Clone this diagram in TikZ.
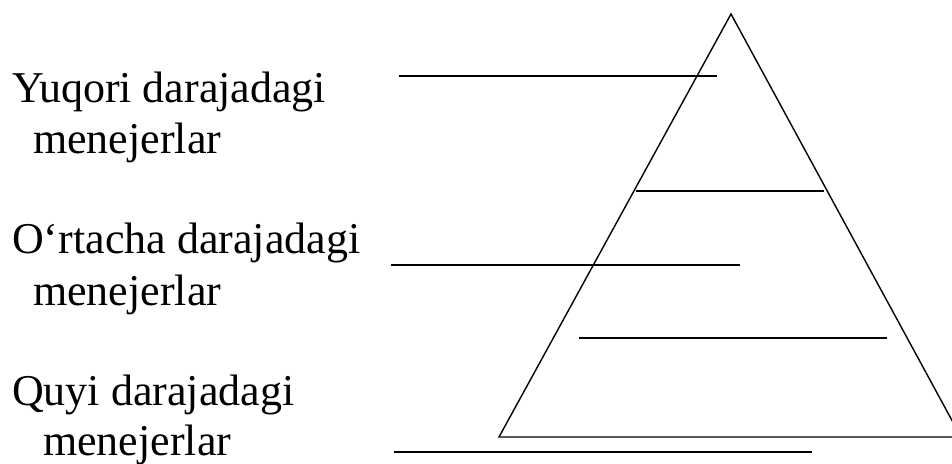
\documentclass[tikz,border=0pt]{standalone}
\usepackage{fontspec}
\setmainfont{Liberation Serif}
\begin{document}
\begin{tikzpicture}[x=1pt,y=-1pt,
  lbl/.style={anchor=base west,inner sep=0pt,font=\fontsize{44}{50}\selectfont},
  ln/.style={line width=1.4pt,line cap=butt}]
\useasboundingbox (0,0) rectangle (952,463);
\clip (0,0) rectangle (952,463);
% labels
\node[lbl] (t1) at (12,102) {Yuqori darajadagi};
\node[lbl] (t1b) at (33,153) {menejerlar};
\node[lbl] (t2) at (12,253) {O‘rtacha darajadagi};
\node[lbl] (t2b) at (33,305) {menejerlar};
\node[lbl] (t3) at (12,405) {Quyi darajadagi};
\node[lbl] (t3b) at (43,455) {menejerlar};
% triangle
\coordinate (apex) at (731,14);
\coordinate (bl) at (499,437);
\coordinate (br) at (961,437);
\draw[ln,line join=miter] (bl) -- (apex) -- (br) -- cycle;
% lines
\coordinate (a1) at (399,76);  \coordinate (b1) at (717,76);
\coordinate (a2) at (636,191); \coordinate (b2) at (824,191);
\coordinate (a3) at (391,265); \coordinate (b3) at (740,265);
\coordinate (a4) at (579,338); \coordinate (b4) at (887,338);
\coordinate (a5) at (394,452); \coordinate (b5) at (812,452);
\draw[ln] (a1) -- (b1);
\draw[ln] (a2) -- (b2);
\draw[ln] (a3) -- (b3);
\draw[ln] (a4) -- (b4);
\draw[ln] (a5) -- (b5);
\end{tikzpicture}
\end{document}
